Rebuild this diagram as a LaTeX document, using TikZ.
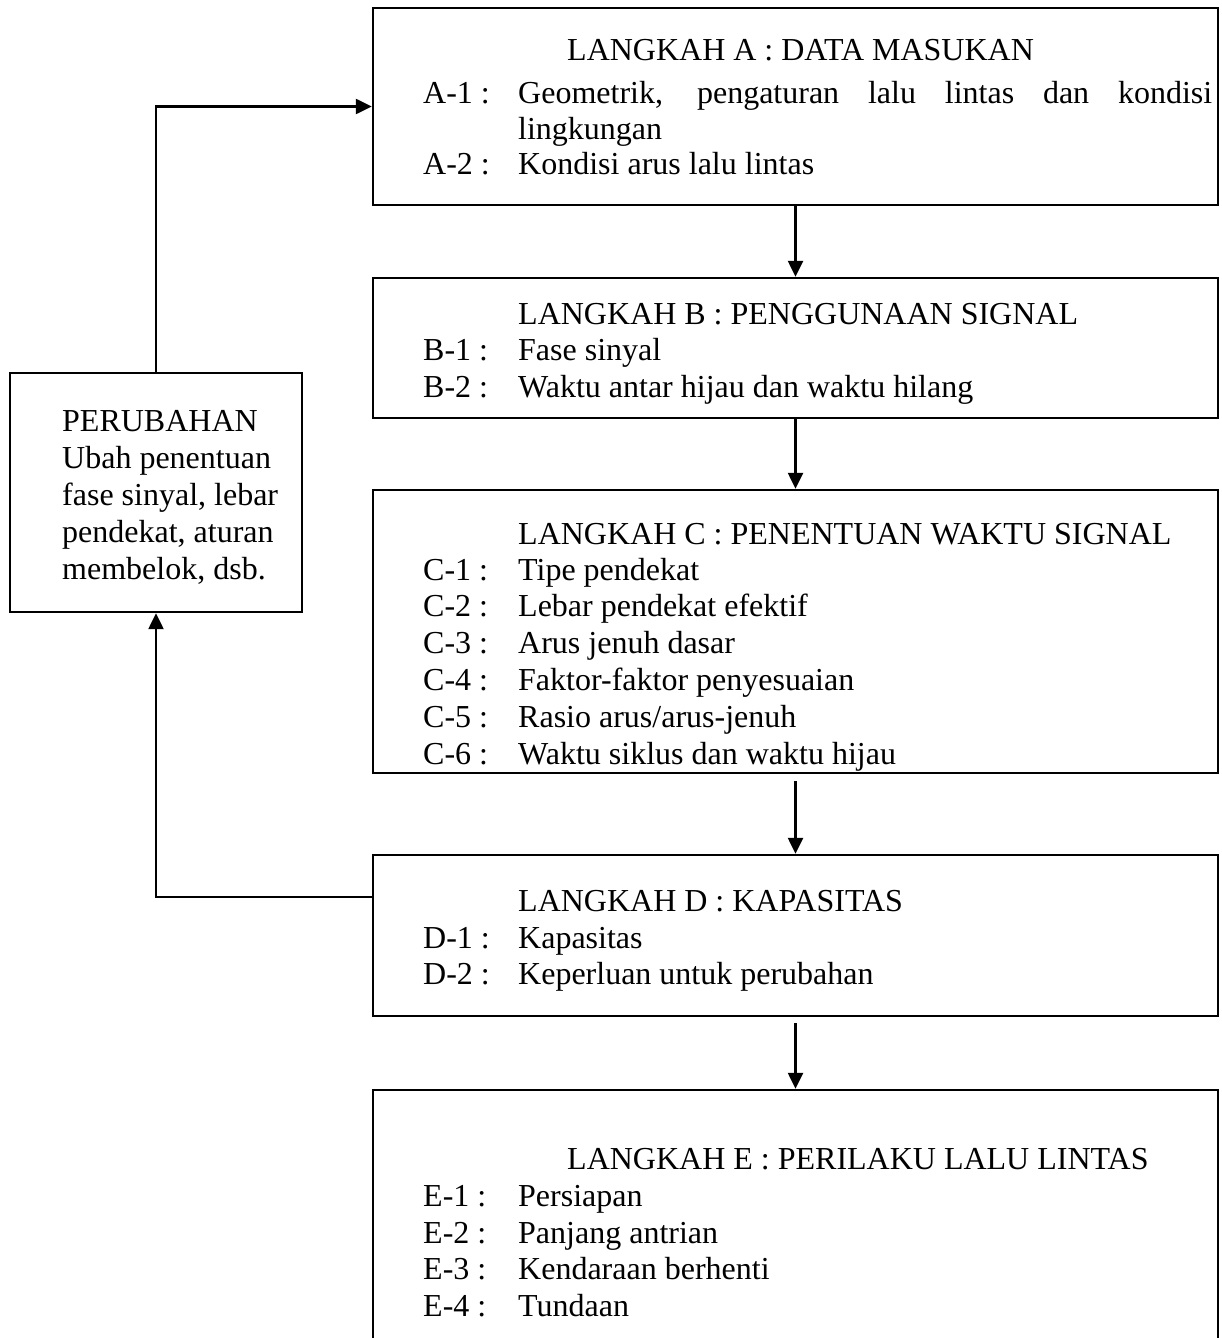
\documentclass[tikz,border=0pt]{standalone}
\usepackage{fontspec}
\setmainfont{Liberation Serif}
\usetikzlibrary{arrows.meta}
\begin{document}
\begin{tikzpicture}[x=1pt,y=-1pt,
  box/.style={draw,line width=2.4pt,inner sep=0pt},
  txt/.style={anchor=base west,inner sep=0pt,font=\fontsize{32}{36}\selectfont},
  arr/.style={line width=2.4pt,-{Triangle[length=16pt,width=15pt]}}]
\useasboundingbox (0,0) rectangle (1221,1338);
\clip (0,0) rectangle (1221,1338);
% boxes
\node[box,minimum width=845pt,minimum height=197pt] (A) at (795.5,106.5) {};
\node[box,minimum width=845pt,minimum height=140pt] (B) at (795.5,348) {};
\node[box,minimum width=845pt,minimum height=283pt] (C) at (795.5,631.5) {};
\node[box,minimum width=845pt,minimum height=161pt] (D) at (795.5,935.5) {};
\node[box,minimum width=845pt,minimum height=270pt] (E) at (795.5,1225) {};
\node[box,minimum width=292pt,minimum height=239pt] (P) at (156,492.5) {};
% texts A
\node[txt] (ah) at (567,61) {LANGKAH A : DATA MASUKAN};
\node[txt] (a1) at (423,103) {A-1 :};
\node[txt] (a1t) at (518,103) {\makebox[694pt][s]{Geometrik, pengaturan lalu lintas dan kondisi}};
\node[txt] (a1u) at (518,139) {lingkungan};
\node[txt] (a2) at (423,174) {A-2 :};
\node[txt] (a2t) at (518,174) {Kondisi arus lalu lintas};
% texts B
\node[txt] (bh) at (518,324) {LANGKAH B : PENGGUNAAN SIGNAL};
\node[txt] (b1) at (423,360) {B-1 :};
\node[txt] (b1t) at (518,360) {Fase sinyal};
\node[txt] (b2) at (423,397) {B-2 :};
\node[txt] (b2t) at (518,397) {Waktu antar hijau dan waktu hilang};
% texts C
\node[txt] (ch) at (518,544) {LANGKAH C : PENENTUAN WAKTU SIGNAL};
\node[txt] (c1) at (423,580) {C-1 :};
\node[txt] (c1t) at (518,580) {Tipe pendekat};
\node[txt] (c2) at (423,616) {C-2 :};
\node[txt] (c2t) at (518,616) {Lebar pendekat efektif};
\node[txt] (c3) at (423,653) {C-3 :};
\node[txt] (c3t) at (518,653) {Arus jenuh dasar};
\node[txt] (c4) at (423,690) {C-4 :};
\node[txt] (c4t) at (518,690) {Faktor-faktor penyesuaian};
\node[txt] (c5) at (423,727) {C-5 :};
\node[txt] (c5t) at (518,727) {Rasio arus/arus-jenuh};
\node[txt] (c6) at (423,764) {C-6 :};
\node[txt] (c6t) at (518,764) {Waktu siklus dan waktu hijau};
% texts D
\node[txt] (dh) at (518,911) {LANGKAH D : KAPASITAS};
\node[txt] (d1) at (423,948) {D-1 :};
\node[txt] (d1t) at (518,948) {Kapasitas};
\node[txt] (d2) at (423,984) {D-2 :};
\node[txt] (d2t) at (518,984) {Keperluan untuk perubahan};
% texts E
\node[txt] (eh) at (567,1169) {LANGKAH E : PERILAKU LALU LINTAS};
\node[txt] (e1) at (423,1206) {E-1 :};
\node[txt] (e1t) at (518,1206) {Persiapan};
\node[txt] (e2) at (423,1243) {E-2 :};
\node[txt] (e2t) at (518,1243) {Panjang antrian};
\node[txt] (e3) at (423,1279) {E-3 :};
\node[txt] (e3t) at (518,1279) {Kendaraan berhenti};
\node[txt] (e4) at (423,1316) {E-4 :};
\node[txt] (e4t) at (518,1316) {Tundaan};
% texts P
\node[txt] (p0) at (62,431) {PERUBAHAN};
\node[txt] (p1) at (62,468) {Ubah penentuan};
\node[txt] (p2) at (62,505) {fase sinyal, lebar};
\node[txt] (p3) at (62,542) {pendekat, aturan};
\node[txt] (p4) at (62,579) {membelok, dsb.};
% connectors
\draw[arr] (A.south) -- (B.north);
\draw[arr] (B.south) -- (C.north);
\draw[arr] ([yshift=-7pt]C.south) -- (D.north);
\draw[arr] ([yshift=-6pt]D.south) -- (E.north);
\coordinate (dl) at (373,897);
\draw[arr] (dl) -| (P.south);
\draw[arr] (P.north) |- (A.west);
\end{tikzpicture}
\end{document}
